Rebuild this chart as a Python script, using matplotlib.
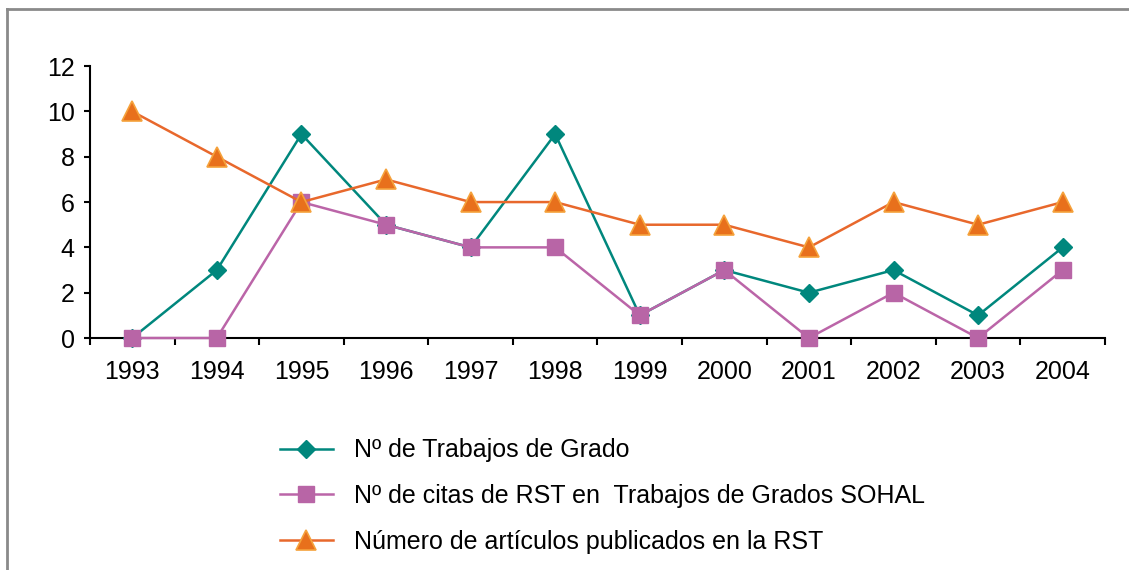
import matplotlib
matplotlib.use('Agg')
import matplotlib.pyplot as plt
from matplotlib.lines import Line2D

plt.rcParams['font.family'] = ['Liberation Sans', 'DejaVu Sans']

years = ['1993', '1994', '1995', '1996', '1997', '1998', '1999', '2000', '2001', '2002', '2003', '2004']
trabajos = [0, 3, 9, 5, 4, 9, 1, 3, 2, 3, 1, 4]
citas = [0, 0, 6, 5, 4, 4, 1, 3, 0, 2, 0, 3]
articulos = [10, 8, 6, 7, 6, 6, 5, 5, 4, 6, 5, 6]

labels = ['Nº de Trabajos de Grado',
          'Nº de citas de RST en  Trabajos de Grados SOHAL',
          'Número de artículos publicados en la RST']

fig = plt.figure(figsize=(11.29, 5.70), dpi=100)
ax = fig.add_axes([0.0797, 0.407, 0.899, 0.477])

x = list(range(len(years)))
ax.plot(x, trabajos, color='#00877d', lw=1.8, marker='D', ms=9,
        mfc='#00877d', mec='#00877d', label=labels[0], zorder=3)
ax.plot(x, citas, color='#bb65a8', lw=1.8, marker='s', ms=12,
        mfc='#b865a6', mec='#b865a6', label=labels[1], zorder=4)
ax.plot(x, articulos, color='#e8682c', lw=1.8, marker='^', ms=14,
        mfc='#e8701c', mec='#f5a23c', mew=1.2, label=labels[2], zorder=5)

ax.set_xlim(-0.5, len(years) - 0.5)
ax.set_ylim(0, 12)
ax.set_yticks(range(0, 13, 2))
ax.set_xticks([i - 0.5 for i in range(len(years) + 1)])
ax.set_xticklabels([])
ax.set_xticks(x, minor=True)
ax.set_xticklabels(years, minor=True)
ax.tick_params(axis='x', which='major', length=5, width=1.5, direction='out')
ax.tick_params(axis='x', which='minor', length=0, pad=16, labelsize=18)
ax.tick_params(axis='y', length=4, width=1.5, labelsize=18, pad=7)
for s in ['top', 'right']:
    ax.spines[s].set_visible(False)
for s in ['left', 'bottom']:
    ax.spines[s].set_linewidth(1.5)
for ln in ax.lines:
    ln.set_clip_on(False)

leg = fig.legend(loc='upper left', bbox_to_anchor=(0.237, 0.253), frameon=False,
                 fontsize=18, handlelength=2.1, handletextpad=0.85, labelspacing=0.87,
                 borderpad=0)

# outer frame (top and left edges only visible)
fig.add_artist(Line2D([0.0065, 1.0], [0.984, 0.984], transform=fig.transFigure,
                      color='#8a8a8a', lw=2))
fig.add_artist(Line2D([0.0065, 0.0065], [0.0, 0.984], transform=fig.transFigure,
                      color='#8a8a8a', lw=2))

fig.savefig('out.png', dpi=100)
